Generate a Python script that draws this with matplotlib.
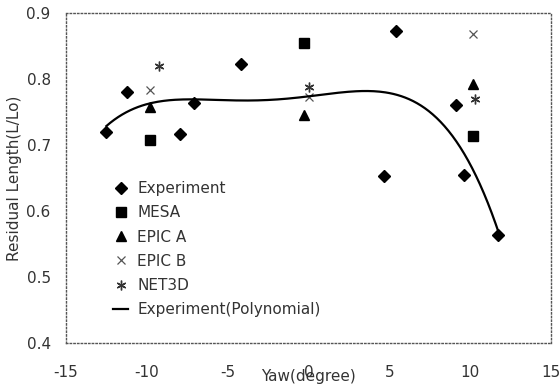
import matplotlib.pyplot as plt
import numpy as np

plt.rcParams['font.family'] = ['DejaVu Sans']
plt.rcParams['axes.unicode_minus'] = False

# yaw angle (degree) vs residual length ratio
exp_x = [-12.5, -11.2, -7.95, -7.1, -4.2, 4.7, 5.4, 9.1, 9.6, 11.7]
exp_y = [0.720, 0.780, 0.717, 0.763, 0.823, 0.653, 0.873, 0.760, 0.655, 0.564]

mesa_x = [-9.8, -0.3, 10.2]
mesa_y = [0.707, 0.855, 0.714]

epica_x = [-9.8, -0.3, 10.2]
epica_y = [0.758, 0.745, 0.792]

epicb_x = [-9.8, 0.0, 10.2]
epicb_y = [0.784, 0.772, 0.868]

net3d_x = [-9.25, 0.0, 10.3]
net3d_y = [0.820, 0.788, 0.769]

txt = '#333333'
fig = plt.figure(figsize=(5.59, 3.85), dpi=100)
ax = fig.add_axes([66 / 559, 1 - 343 / 385, 485 / 559, 330 / 385])

ax.plot(exp_x, exp_y, 'D', color='black', ms=6, ls='none', label='Experiment')
ax.plot(mesa_x, mesa_y, 's', color='black', ms=7, ls='none', label='MESA')
ax.plot(epica_x, epica_y, '^', color='black', ms=7.5, ls='none', label='EPIC A')
ax.plot(epicb_x, epicb_y, 'x', color='#555555', ms=6, mew=0.9, ls='none', label='EPIC B')
ax.plot(net3d_x, net3d_y, marker=(6, 2, 0), color='#333333', ms=7, mew=1.0, ls='none', label='NET3D')

# 4th order trend line through the experiment points
coef = np.polyfit(exp_x, exp_y, 4)
xs = np.linspace(min(exp_x), max(exp_x), 200)
ax.plot(xs, np.polyval(coef, xs), color='black', lw=1.6, label='Experiment(Polynomial)')

ax.set_xlim(-15, 15)
ax.set_ylim(0.4, 0.9)
ax.set_xticks([-15, -10, -5, 0, 5, 10, 15])
ax.set_yticks([0.4, 0.5, 0.6, 0.7, 0.8, 0.9])
ax.set_yticklabels(['0.4', '0.5', '0.6', '0.7', '0.8', '0.9'])
ax.tick_params(length=0, labelsize=11, colors=txt)
ax.tick_params(axis='x', pad=16)
ax.tick_params(axis='y', pad=11)
for s in ax.spines.values():
    s.set_linestyle(':')
    s.set_color('#555555')
    s.set_linewidth(1.0)

ax.set_xlabel('Yaw(degree)', fontsize=11, color=txt, labelpad=-8)
ax.set_ylabel('Residual Length(L/Lo)', fontsize=11, color=txt, labelpad=3)

ax.legend(loc='upper left', bbox_to_anchor=(0.097, 0.49), frameon=False,
          fontsize=11, labelcolor=txt, handlelength=1.0, handletextpad=0.6,
          labelspacing=0.6, borderaxespad=0, borderpad=0)

fig.savefig('out.png', dpi=100)
